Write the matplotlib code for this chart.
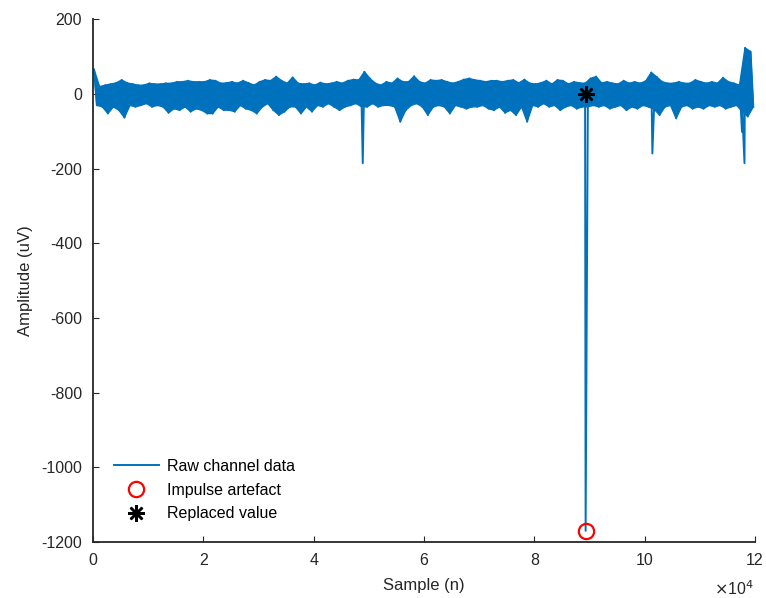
import numpy as np
import matplotlib.pyplot as plt

plt.rcParams['font.family'] = ['Liberation Sans', 'DejaVu Sans']
plt.rcParams['axes.unicode_minus'] = False

# envelope of the raw trace, read per 1000 samples (uV)
seg_top = [66, 20, 24, 27, 30, 38, 30, 27, 24, 24, 29, 27, 27, 29, 29, 33, 33, 36, 33, 33,
           33, 38, 36, 29, 30, 33, 29, 36, 30, 24, 33, 38, 36, 47, 36, 29, 45, 29, 27, 29,
           24, 31, 27, 29, 33, 29, 36, 39, 38, 60, 42, 29, 24, 33, 29, 42, 33, 33, 48, 33,
           29, 38, 36, 38, 33, 29, 33, 39, 42, 38, 36, 33, 36, 36, 33, 36, 38, 30, 39, 29,
           27, 30, 36, 27, 38, 36, 27, 33, 30, 29, 42, 47, 30, 33, 29, 27, 36, 29, 33, 29,
           35, 58, 46, 33, 29, 29, 33, 29, 29, 38, 33, 29, 33, 29, 44, 33, 29, 24, 124, 114]
seg_bot = [-30, -34, -52, -34, -43, -63, -30, -34, -30, -25, -34, -30, -34, -50, -39, -43, -34, -47, -39, -43,
           -52, -52, -34, -43, -43, -47, -30, -39, -43, -52, -34, -25, -43, -56, -47, -34, -34, -52, -34, -47,
           -30, -34, -25, -34, -43, -34, -30, -25, -34, -34, -25, -34, -30, -30, -34, -74, -43, -30, -25, -34,
           -56, -34, -30, -34, -52, -30, -34, -39, -34, -34, -30, -39, -43, -34, -50, -43, -56, -34, -74, -30,
           -34, -25, -34, -30, -43, -34, -30, -39, -34, -34, -30, -34, -30, -39, -34, -30, -43, -34, -39, -30,
           -34, -40, -56, -34, -30, -65, -34, -30, -39, -34, -39, -30, -34, -30, -39, -34, -30, -47, -60, -34]

# isolated excursions (sample, uV)
spike_x = [48900, 101400, 117650, 118100]
spike_y = [-185, -159, -101, -185]

# impulse artefact and its replacement
imp_x = 89300
imp_y = -1170
rep_y = 0

seg_len = 1000
blue = '#0072BD'

# points of the trace
top_x = [k * seg_len + 200 for k in range(len(seg_top))]
bot_x = [k * seg_len + 700 for k in range(len(seg_bot))]
xs = []
ys = []
for k in range(len(seg_top)):
    xs += [top_x[k], bot_x[k]]
    ys += [seg_top[k], seg_bot[k]]
xs += spike_x + [imp_x]
ys += spike_y + [imp_y]
order = np.argsort(xs, kind='stable')
xs = np.array(xs)[order]
ys = np.array(ys)[order]

fig = plt.figure(figsize=(7.66, 5.98), dpi=100)
ax = fig.add_axes([0.1214, 0.0936, 0.8642, 0.8738])

# dense noise band between the upper and lower envelopes
ax.fill(top_x + bot_x[::-1], seg_top + seg_bot[::-1], color=blue, lw=1.0, ec=blue)
ax.plot(xs, ys, color=blue, lw=1.4, label='Raw channel data')
ax.plot([imp_x], [imp_y], 'o', mfc='none', mec='red', ms=11, mew=1.6, label='Impulse artefact')
ax.plot([imp_x], [rep_y], marker=(8, 2, 0), ls='none', color='black', ms=12, mew=1.8,
        label='Replaced value')

ax.set_xlim(0, 120000)
ax.set_ylim(-1200, 200)
ax.set_xticks(np.arange(0, 120001, 20000))
ax.set_xticklabels(['0', '2', '4', '6', '8', '10', '12'])
ax.set_yticks(np.arange(-1200, 201, 200))

for s in ['top', 'right']:
    ax.spines[s].set_visible(False)
for s in ['left', 'bottom']:
    ax.spines[s].set_color('#262626')
    ax.spines[s].set_linewidth(1.3)
ax.tick_params(direction='in', length=4, colors='#262626', labelsize=11.5, width=0.8)
ax.tick_params(axis='x', pad=8)
ax.tick_params(axis='y', pad=8)

ax.set_xlabel('Sample (n)', fontsize=12, color='#262626', labelpad=7)
ax.set_ylabel('Amplitude (uV)', fontsize=12, color='#262626', labelpad=6)
fig.text(0.984, 0.016, r'$\times$10$^4$', ha='right', va='center', fontsize=11.5, color='#262626')

ax.legend(loc='lower left', bbox_to_anchor=(0.01, 0.012), frameon=False, fontsize=11.5,
          handlelength=2.8, labelspacing=0.55, handletextpad=0.5)

fig.savefig('out.png', dpi=100)
